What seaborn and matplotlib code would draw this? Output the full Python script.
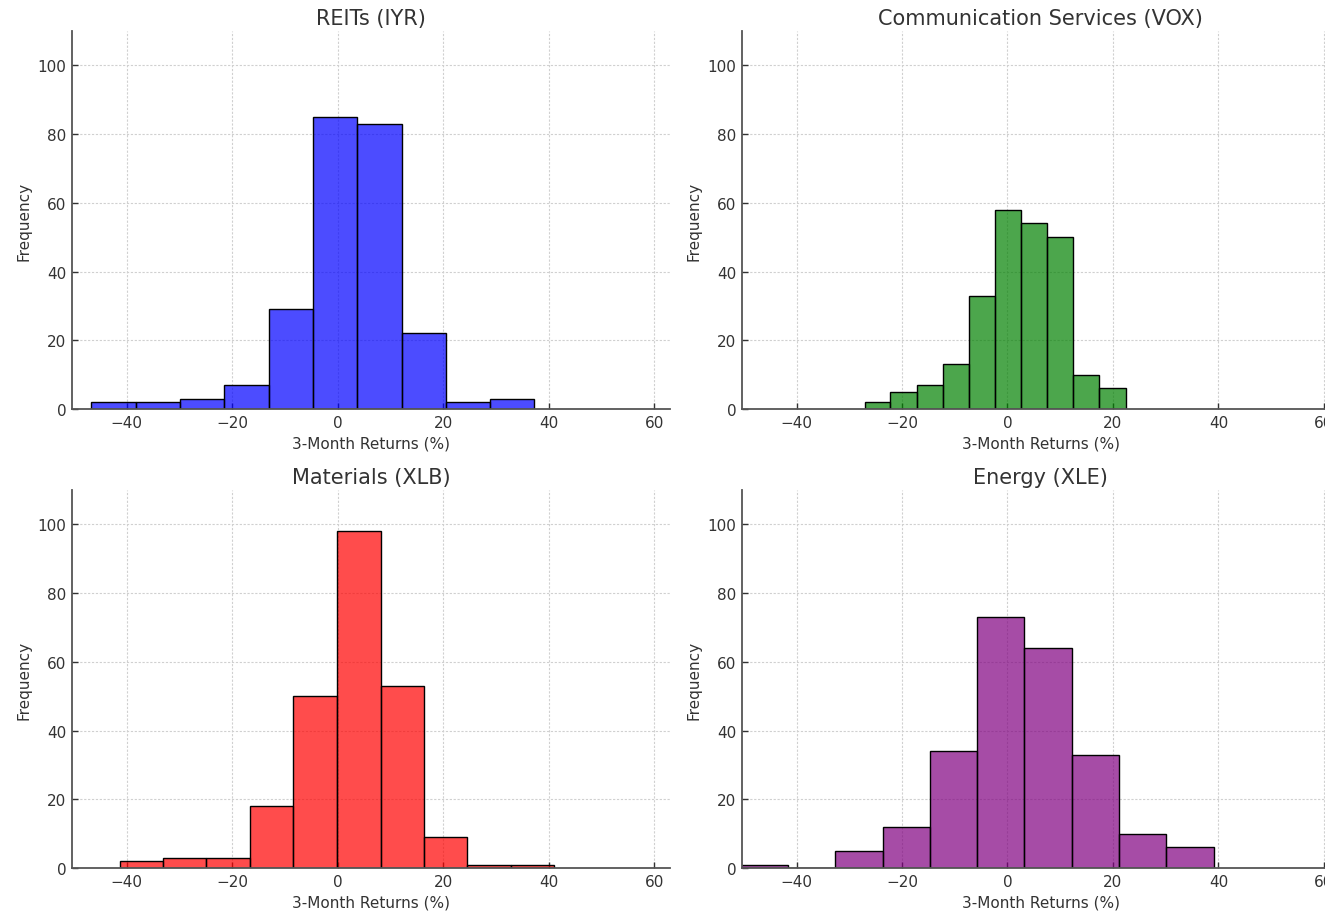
import numpy as np
import pandas as pd
import seaborn as sns
import matplotlib.pyplot as plt

# Sector ETFs shown in the 2x2 grid
titles = ["REITs (IYR)", "Communication Services (VOX)", "Materials (XLB)", "Energy (XLE)"]
colors = ["blue", "green", "red", "purple"]

# Histogram bin edges (3-month returns, %) and counts
iyr_edges = [-46.7, -38.3, -29.9, -21.5, -13.1, -4.7, 3.7, 12.1, 20.5, 28.8, 37.2]
iyr_counts = [2, 2, 3, 7, 29, 85, 83, 22, 2, 3]

vox_edges = [-27.1, -22.2, -17.2, -12.3, -7.3, -2.4, 2.6, 7.5, 12.4, 17.4, 22.4]
vox_counts = [2, 5, 7, 13, 33, 58, 54, 50, 10, 6]

xlb_edges = [-41.3, -33.1, -24.9, -16.6, -8.4, -0.1, 8.2, 16.4, 24.6, 32.9, 41.1]
xlb_counts = [2, 3, 3, 18, 50, 98, 53, 9, 1, 1]

xle_edges = [-50.6, -41.6, -32.7, -23.7, -14.7, -5.8, 3.2, 12.2, 21.2, 30.1, 39.1]
xle_counts = [1, 0, 5, 12, 34, 73, 64, 33, 10, 6]

all_edges = [iyr_edges, vox_edges, xlb_edges, xle_edges]
all_counts = [iyr_counts, vox_counts, xlb_counts, xle_counts]

sns.set_theme(style="white")
plt.rcParams.update({
    "font.family": ["DejaVu Sans"],
    "text.color": "#333333",
    "axes.labelcolor": "#333333",
    "xtick.color": "#333333",
    "ytick.color": "#333333",
    "axes.edgecolor": "#555555",
})

fig, axes = plt.subplots(2, 2, figsize=(13.25, 9.12), dpi=100)
# the right column runs past the edge of the picture, as in the original
fig.subplots_adjust(left=0.0543, right=1.0111, top=0.965, bottom=0.0471,
                    wspace=0.12, hspace=0.214)

for ax, title, color, edges, counts in zip(axes.flat, titles, colors, all_edges, all_counts):
    mids = [(a + b) / 2 for a, b in zip(edges[:-1], edges[1:])]
    df = pd.DataFrame({"ret": mids, "n": counts})
    sns.histplot(data=df, x="ret", weights="n", bins=list(edges), color=color,
                 alpha=0.7, edgecolor="black", linewidth=1, ax=ax)
    ax.set_title(title, fontsize=15, pad=5)
    ax.set_xlabel("3-Month Returns (%)", fontsize=11, labelpad=4)
    ax.set_ylabel("Frequency", fontsize=11)
    ax.set_xlim(-50.4, 63)
    ax.set_ylim(0, 110)
    ax.set_yticks([0, 20, 40, 60, 80, 100])
    ax.set_xticks([-40, -20, 0, 20, 40, 60])
    ax.tick_params(bottom=True, left=True, direction="in", labelsize=11,
                   length=4, width=1, colors="#333333", pad=4)
    ax.grid(True, linestyle=(0, (2, 1.5)), color="#d0d0d0", linewidth=0.8)
    ax.set_axisbelow(True)
    for side in ["top", "right"]:
        ax.spines[side].set_visible(False)
    for side in ["left", "bottom"]:
        ax.spines[side].set_linewidth(1.3)

fig.savefig("out.png", dpi=100)
